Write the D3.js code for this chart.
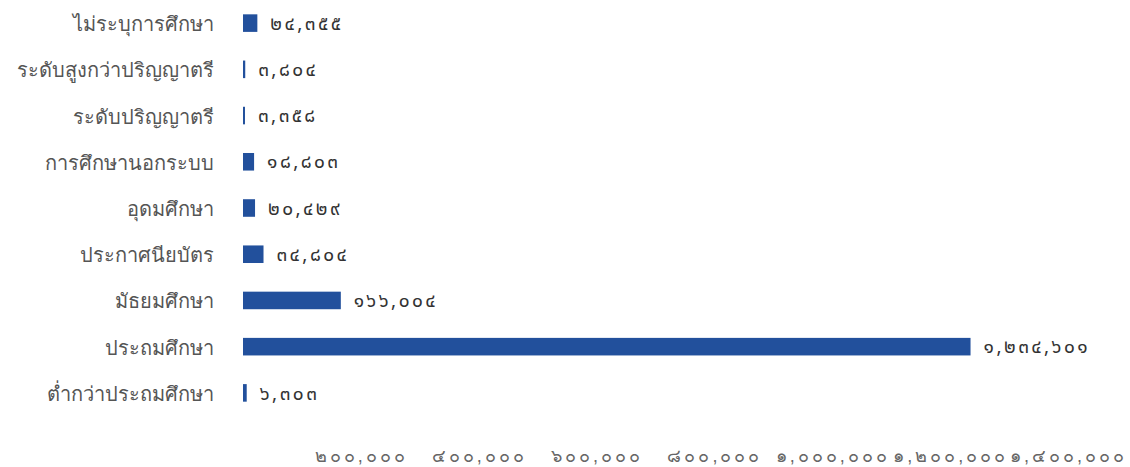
<!DOCTYPE html>
<html>
<head>
<meta charset="utf-8">
<script src="https://cdn.jsdelivr.net/npm/d3@7"></script>
<style>
  html, body { margin: 0; padding: 0; background: #fff; }
  svg { display: block; font-family: "Noto Sans Thai", "Noto Sans", "DejaVu Sans", sans-serif; }
</style>
</head>
<body>
<svg id="chart" width="1130" height="467"></svg>
<script>
// Education level of the population (top to bottom)
const categories = [
  "ไม่ระบุการศึกษา",
  "ระดับสูงกว่าปริญญาตรี",
  "ระดับปริญญาตรี",
  "การศึกษานอกระบบ",
  "อุดมศึกษา",
  "ประกาศนียบัตร",
  "มัธยมศึกษา",
  "ประถมศึกษา",
  "ต่ำกว่าประถมศึกษา"
];
const values = [24355, 3804, 3358, 18803, 20429, 34804, 166004, 1234601, 6303];
const tickValues = [200000, 400000, 600000, 800000, 1000000, 1200000, 1400000];

const thaiDigits = "๐๑๒๓๔๕๖๗๘๙";
const toThai = s => s.replace(/[0-9]/g, d => thaiDigits[+d]);
const fmt = v => toThai(d3.format(",")(v));

const svg = d3.select("#chart");
const x = d3.scaleLinear().domain([0, 1400000]).range([243, 1068]);
const y = d3.scaleBand().domain(categories).range([0, 416]).paddingInner(0.62).paddingOuter(0.31);

// bars
svg.append("g").selectAll("rect")
  .data(values)
  .join("rect")
  .attr("x", x(0))
  .attr("y", (d, i) => y(categories[i]))
  .attr("width", d => Math.max(1.5, x(d) - x(0)))
  .attr("height", y.bandwidth())
  .attr("fill", "#22509c");

// value labels
svg.append("g").selectAll("text")
  .data(values)
  .join("text")
  .attr("x", d => x(d) + 13)
  .attr("y", (d, i) => y(categories[i]) + y.bandwidth() / 2)
  .attr("dy", "0.35em")
  .attr("font-size", 19)
  .attr("letter-spacing", 2.5)
  .attr("fill", "#333")
  .text(fmt);

// category axis
const yAxis = svg.append("g")
  .attr("transform", `translate(${x(0) - 29},0)`)
  .call(d3.axisLeft(y).tickSize(0).tickPadding(0));
yAxis.select(".domain").remove();
yAxis.selectAll("text")
  .attr("font-size", 20)
  .attr("fill", "#555")
  .attr("dy", "0.4em")
  .style("font-family", "inherit");

// value axis
const xAxis = svg.append("g")
  .attr("transform", "translate(0,449)")
  .call(d3.axisBottom(x).tickValues(tickValues).tickSize(0).tickPadding(0).tickFormat(fmt));
xAxis.select(".domain").remove();
xAxis.selectAll("text")
  .attr("font-size", 18)
  .attr("letter-spacing", 3)
  .attr("fill", "#666")
  .attr("dy", "0.71em")
  .style("font-family", "inherit");
</script>
</body>
</html>
